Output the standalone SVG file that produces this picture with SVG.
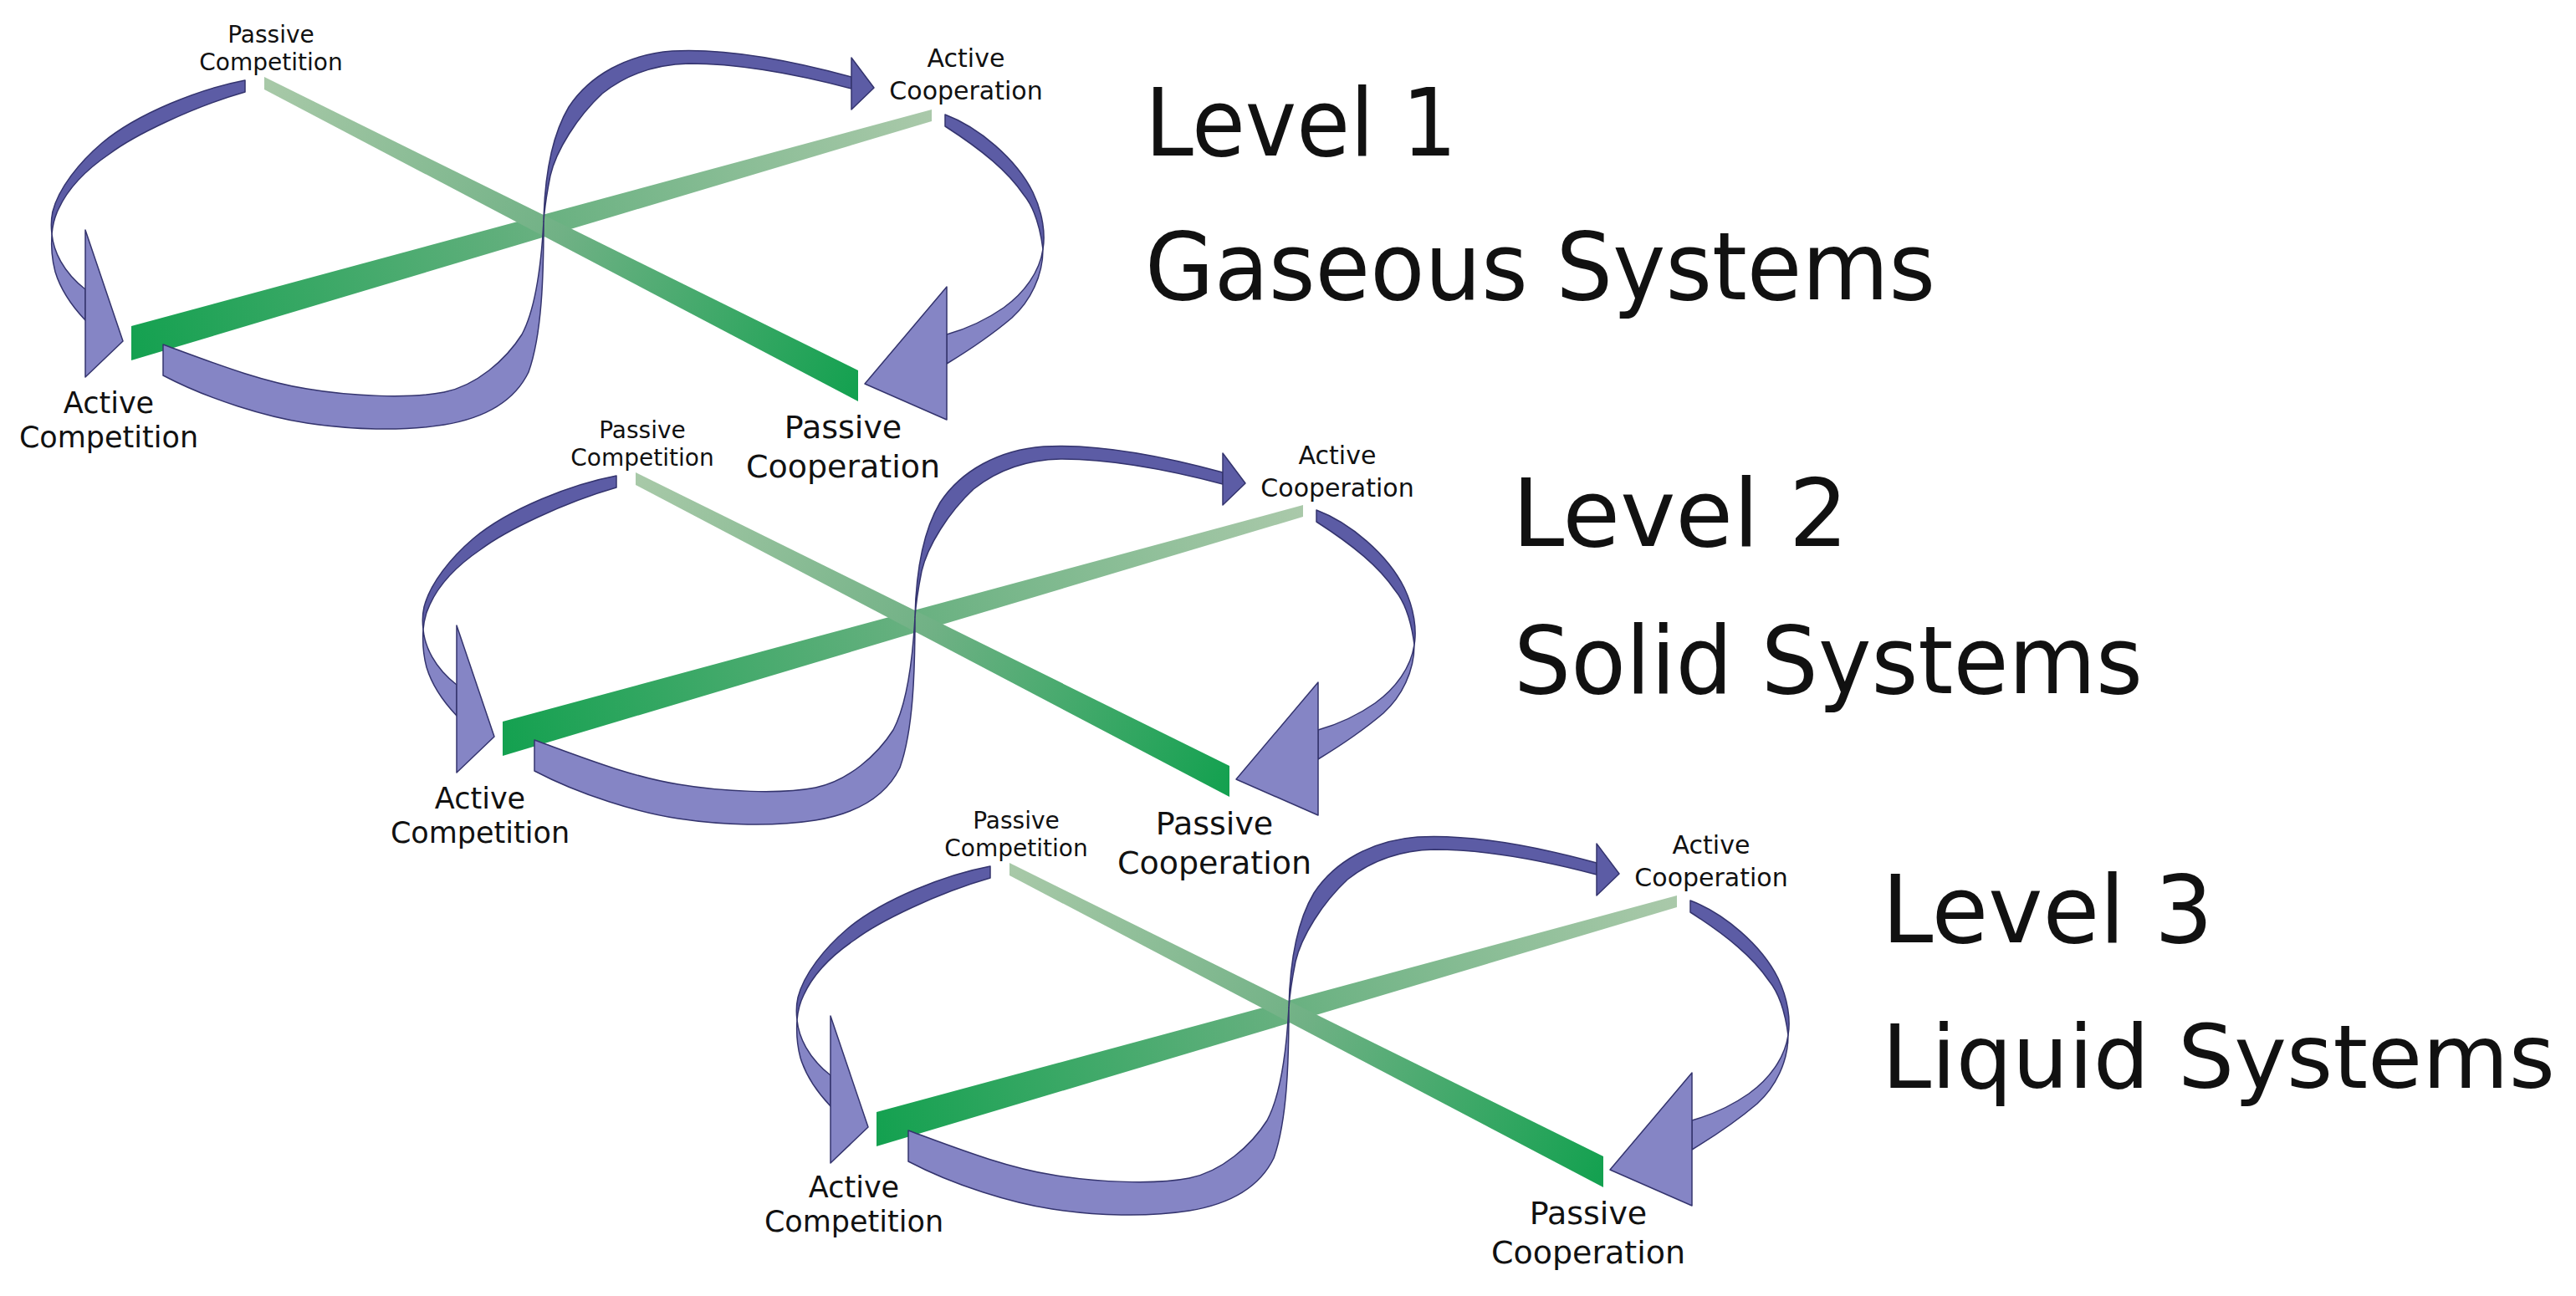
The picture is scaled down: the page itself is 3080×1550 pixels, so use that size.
<svg xmlns="http://www.w3.org/2000/svg" width="3080" height="1550" viewBox="0 0 3080 1550">
<style>
.dk{fill:#5c5ca5;stroke:#34346e;stroke-width:1.5;stroke-linejoin:round}
.lt{fill:#8585c5;stroke:#34346e;stroke-width:1.5;stroke-linejoin:round}
text{font-family:"DejaVu Sans","Liberation Sans",sans-serif;fill:#111;text-anchor:middle}
.big{font-size:112px;text-anchor:start}
.big2{font-size:106px;text-anchor:start}
.s1{font-size:28px}
.s2{font-size:30px}
.s3{font-size:35px}
.s4{font-size:38px}
</style>
<defs>
<linearGradient id="gB" gradientUnits="userSpaceOnUse" x1="157" y1="410" x2="1114" y2="138">
<stop offset="0" stop-color="#14a150"/>
<stop offset="0.5" stop-color="#66b07f"/>
<stop offset="1" stop-color="#aac9aa"/>
</linearGradient>
<linearGradient id="gA" gradientUnits="userSpaceOnUse" x1="316" y1="100" x2="1026" y2="461">
<stop offset="0" stop-color="#a8c9a8"/>
<stop offset="0.5" stop-color="#70b185"/>
<stop offset="1" stop-color="#14a150"/>
</linearGradient>
<g id="barsShape">
<polygon points="157,390 1114,131 1114,145 157,431" fill="url(#gB)"/>
<polygon points="316,92 1026,443 1026,480 316,107" fill="url(#gA)"/>
</g>
<g id="loopShape">
<path class="dk" d="M293,96 C240,106 165,135 122,171 C95,194 70,225 63,253 C61,262 61,272 62,280 C63,268 66,258 70,250 C80,228 100,205 131,184 C160,162 230,128 293,110 Z"/>
<path class="lt" d="M62,280 C64,300 75,325 102,346 L102,383 C85,365 72,345 66,325 C62,310 61,295 62,280 Z"/>
<path class="lt" d="M102,275 L147,408 L102,451 Z"/>
<path class="lt" d="M195,412 C250,432 310,456 367,465 C420,474 490,477 531,469 C570,461 605,430 624,400 C640,370 647,320 650,265 C650,330 648,400 632,445 C615,480 580,500 531,508 C480,516 420,514 367,506 C320,499 250,478 195,449 Z"/>
<path class="dk" d="M650,265 C651,220 658,165 680,128 C705,90 750,65 804,61 C860,58 930,68 1018,92 L1018,106 C950,88 880,76 824,76 C780,77 745,92 720,112 C690,140 665,180 658,210 C653,235 651,250 650,265 Z"/>
<path class="dk" d="M1018,69 L1045,105 L1018,131 Z"/>
<path class="dk" d="M1130,137 C1170,152 1215,190 1235,230 C1247,255 1250,280 1247,298 C1244,275 1238,250 1224,233 C1205,205 1175,180 1130,151 Z"/>
<path class="lt" d="M1247,298 C1247,330 1232,360 1210,380 C1190,397 1160,418 1132,435 L1132,400 C1160,392 1180,382 1200,368 C1225,350 1243,325 1247,298 Z"/>
<path class="lt" d="M1132,343 L1132,502 L1034,459 Z"/>
</g>
</defs>

<g id="axes">
<use href="#barsShape"/>
<use href="#barsShape" transform="translate(444,473)"/>
<use href="#barsShape" transform="translate(891,940)"/>
</g>

<g id="connectors">
<use href="#loopShape"/>
<use href="#loopShape" transform="translate(444,473)"/>
<use href="#loopShape" transform="translate(891,940)"/>
</g>

<g id="level1">
<g id="l1-passive-competition"><text class="s1" x="324" y="51">Passive</text><text class="s1" x="324" y="84">Competition</text></g>
<g id="l1-active-cooperation"><text class="s2" x="1155" y="80">Active</text><text class="s2" x="1155" y="119">Cooperation</text></g>
<g id="l1-active-competition"><text class="s3" x="130" y="494">Active</text><text class="s3" x="130" y="535">Competition</text></g>
<g id="l1-passive-cooperation"><text class="s4" x="1008" y="524">Passive</text><text class="s4" x="1008" y="571">Cooperation</text></g>
<g id="l1-title"><text class="big" x="1369" y="186" textLength="373" lengthAdjust="spacingAndGlyphs">Level 1</text><text class="big" x="1369" y="358" textLength="945" lengthAdjust="spacingAndGlyphs">Gaseous Systems</text></g>
</g>

<g id="level2">
<g id="l2-passive-competition"><text class="s1" x="768" y="524">Passive</text><text class="s1" x="768" y="557">Competition</text></g>
<g id="l2-active-cooperation"><text class="s2" x="1599" y="555">Active</text><text class="s2" x="1599" y="594">Cooperation</text></g>
<g id="l2-active-competition"><text class="s3" x="574" y="967">Active</text><text class="s3" x="574" y="1008">Competition</text></g>
<g id="l2-passive-cooperation"><text class="s4" x="1452" y="998">Passive</text><text class="s4" x="1452" y="1045">Cooperation</text></g>
<g id="l2-title"><text class="big" x="1808" y="653" textLength="402" lengthAdjust="spacingAndGlyphs">Level 2</text><text class="big" x="1810" y="829" textLength="752" lengthAdjust="spacingAndGlyphs">Solid Systems</text></g>
</g>

<g id="level3">
<g id="l3-passive-competition"><text class="s1" x="1215" y="991">Passive</text><text class="s1" x="1215" y="1024">Competition</text></g>
<g id="l3-active-cooperation"><text class="s2" x="2046" y="1021">Active</text><text class="s2" x="2046" y="1060">Cooperation</text></g>
<g id="l3-active-competition"><text class="s3" x="1021" y="1432">Active</text><text class="s3" x="1021" y="1473">Competition</text></g>
<g id="l3-passive-cooperation"><text class="s4" x="1899" y="1464">Passive</text><text class="s4" x="1899" y="1511">Cooperation</text></g>
<g id="l3-title"><text class="big" x="2250" y="1127" textLength="396" lengthAdjust="spacingAndGlyphs">Level 3</text><text class="big2" x="2250" y="1301" textLength="805" lengthAdjust="spacingAndGlyphs">Liquid Systems</text></g>
</g>
</svg>
